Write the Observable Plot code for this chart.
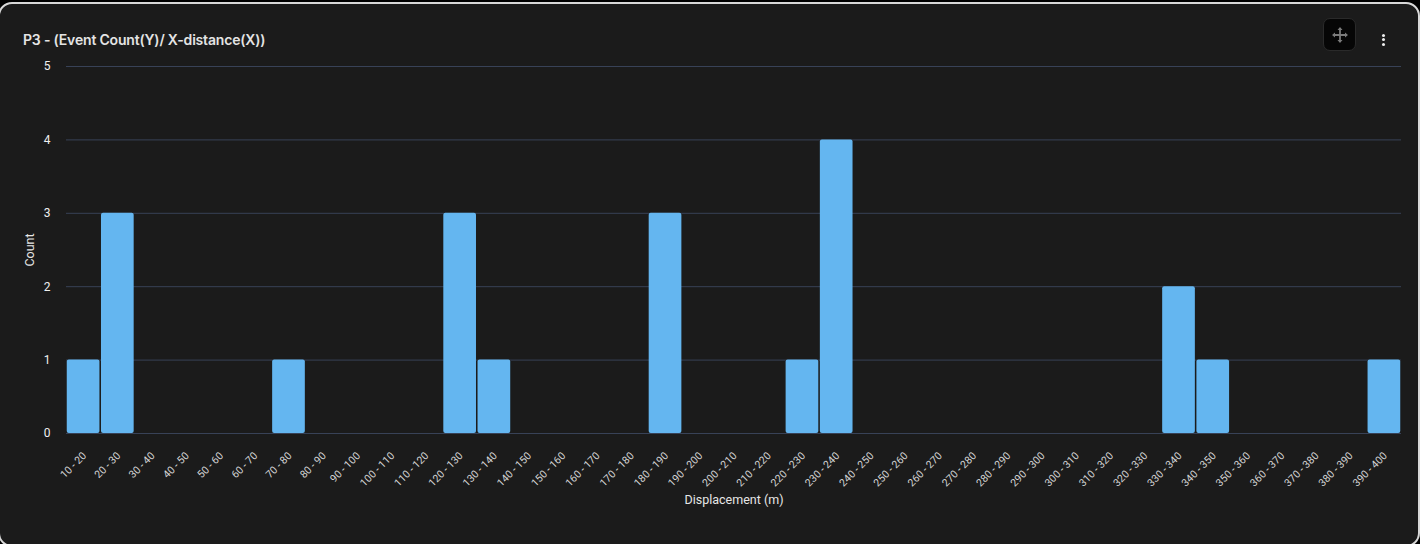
<!DOCTYPE html>
<html>
<head>
<meta charset="utf-8">
<script src="https://cdn.jsdelivr.net/npm/d3@7"></script>
<script src="https://cdn.jsdelivr.net/npm/@observablehq/plot@0.6"></script>
<style>
html,body{margin:0;padding:0;background:#000;width:1420px;height:544px;overflow:hidden}
#card{position:absolute;left:-2px;top:2px;width:1417.5px;height:541px;background:#1b1b1b;border:2px solid #d8d8d8;border-radius:14px;box-sizing:content-box;overflow:hidden}
#title{position:absolute;left:23px;top:27px;color:#e4e4e4;font:600 14px/18px Inter,Roboto,sans-serif;letter-spacing:-.18px;white-space:nowrap}
#chart{position:absolute;left:0;top:44px;width:1420px}
#chart svg{display:block;background:transparent;max-width:none}
#move{position:absolute;left:1323px;top:14px;width:33px;height:33px;background:#060606;border:1px solid #2a2a2a;border-radius:7px;box-sizing:border-box;color:#7b7b7b;display:flex;align-items:center;justify-content:center}
#menu{position:absolute;left:1381.5px;top:29.5px;width:3px}
#menu i{display:block;width:3px;height:3px;background:#eee;border-radius:50%;margin-bottom:1.6px}
</style>
</head>
<body>
<div id="card">
<div id="title">P3 - (Event Count(Y)/ X-distance(X))</div>
<div id="move"><svg width="16" height="16" viewBox="0 0 16 16" fill="none" stroke="currentColor" stroke-width="1.8"><path d="M8 2V14M2 8H14"/><path fill="currentColor" stroke="none" d="M8 0L10.5 3H5.5ZM8 16L10.5 13H5.5ZM0 8L3 5.5V10.5ZM16 8L13 5.5V10.5Z"/></svg></div>
<div id="menu"><i></i><i></i><i></i></div>
<div id="chart"></div>
</div>
<script>
const lows = [10,20,30,40,50,60,70,80,90,100,110,120,130,140,150,160,170,180,190,200,210,220,230,240,250,260,270,280,290,300,310,320,330,340,350,360,370,380,390];
const categories = lows.map(l => `${l} - ${l + 10}`);
const counts = [1,3,0,0,0,0,1,0,0,0,0,3,1,0,0,0,0,3,0,0,0,1,4,0,0,0,0,0,0,0,0,0,2,1,0,0,0,0,1];
const yTicks = [0,1,2,3,4,5];
const rows = categories.map((c, i) => ({range: c, count: counts[i]}));

const plot = Plot.plot({
  width: 1420, height: 494,
  marginLeft: 66, marginRight: 19, marginTop: 18, marginBottom: 109,
  style: {background: "transparent", color: "#e6e6e6", fontFamily: "Roboto, sans-serif", fontSize: "11px", overflow: "visible"},
  x: {domain: categories, label: null, paddingInner: 0.045, paddingOuter: 0.022, align: 0.5, round: false},
  y: {domain: [0, 5], label: null},
  marks: [
    Plot.ruleY(yTicks, {stroke: "#384257", strokeWidth: 1, strokeOpacity: 1}),
    Plot.barY(rows.filter(d => d.count > 0), {x: "range", y: "count", fill: "#64b6f0", rx: 2}),
    Plot.axisY({ticks: yTicks, tickSize: 0, tickPadding: 16, label: null, tickFormat: d3.format("d"), fill: "#f0f0f0", fontSize: 12}),
    Plot.axisX({tickSize: 0, tickRotate: -45, tickPadding: 19, dx: 1, dy: 1.5, label: null, fill: "#d4d4d4", fontSize: 10.5}),
    Plot.text(["Displacement (m)"], {frameAnchor: "bottom", dy: 70, text: d => d, fill: "#e6e6e6", fontSize: 12.5}),
    Plot.text(["Count"], {frameAnchor: "left", textAnchor: "middle", dx: -37, rotate: -90, text: d => d, fill: "#e6e6e6", fontSize: 12.5})
  ]
});
document.getElementById("chart").append(plot);
</script>
</body>
</html>
